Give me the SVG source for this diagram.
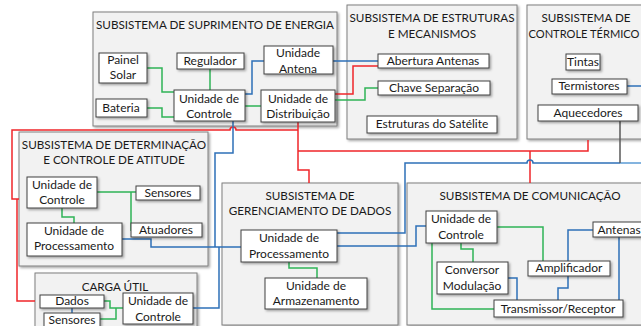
<svg xmlns="http://www.w3.org/2000/svg" width="641" height="326" viewBox="0 0 641 326">
<defs>
<filter id="sh" x="-10%" y="-10%" width="130%" height="140%">
<feDropShadow dx="1.5" dy="1.5" stdDeviation="0.8" flood-color="#000" flood-opacity="0.35"/>
</filter>
</defs>
<style>
.sub{fill:#f2f2f2;stroke:#7f7f7f;stroke-width:1;filter:url(#sh)}
.box{fill:#fff;stroke:#404040;stroke-width:1;filter:url(#sh)}
text{font-family:Lato,"Open Sans","Liberation Sans",sans-serif;fill:#1a1a1a;text-anchor:middle}
.t{font-size:11.7px}
.l{font-size:12px}
.c{fill:none;stroke-width:1.5}
.r{stroke:#f0262a}
.g{stroke:#2fb457}
.b{stroke:#2e70b8}
.lb{stroke:#5b9bd5}
.k{stroke:#595959}
</style>
<rect width="641" height="326" fill="#fff"/>

<g id="supply">
<rect class="sub" x="93" y="12" width="244" height="114"/>
<text class="t" x="215" y="29">SUBSISTEMA DE SUPRIMENTO DE ENERGIA</text>
</g>
<g id="structures">
<rect class="sub" x="347" y="5" width="170" height="134"/>
<text class="t" x="432" y="22">SUBSISTEMA DE ESTRUTURAS</text>
<text class="t" x="432" y="38">E MECANISMOS</text>
</g>
<g id="thermal">
<rect class="sub" x="527" y="5" width="130" height="134"/>
<text class="t" x="586" y="22">SUBSISTEMA DE</text>
<text class="t" x="584" y="38" style="font-size:11.1px">CONTROLE TÉRMICO</text>
</g>
<g id="adcs">
<rect class="sub" x="19" y="132" width="189" height="134"/>
<text class="t" x="114" y="149">SUBSISTEMA DE DETERMINAÇÃO</text>
<text class="t" x="114" y="164">E CONTROLE DE ATITUDE</text>
</g>
<g id="data">
<rect class="sub" x="222" y="183" width="176" height="142"/>
<text class="t" x="310" y="200">SUBSISTEMA DE</text>
<text class="t" x="310" y="215">GERENCIAMENTO DE DADOS</text>
</g>
<g id="payload">
<rect class="sub" x="35" y="273" width="162" height="62"/>
<text class="t" x="115" y="291">CARGA ÚTIL</text>
</g>
<g id="comm">
<rect class="sub" x="407" y="183" width="245" height="142"/>
<text class="t" x="530" y="200">SUBSISTEMA DE COMUNICAÇÃO</text>
</g>

<g id="connectors">
<path class="c r" d="M298,122 V170 H309 V183"/>
<path class="c r" d="M298,130 H236 a3,3 0 0 0 -6,0 H12 V199 H19 M17,199 V301 H35"/>
<path class="c r" d="M298,151 H588 V140 M530,151 V183"/>
<path class="c r" d="M335,94 H353 V66 H378"/>
<path class="c g" d="M147,68 H162 V92 H174 M147,108 H162 V117 H174 M210,69 V90 M245,106 H261"/>
<path class="c g" d="M335,100 H365 V88 H378"/>
<path class="c b" d="M245,94 H252 V61 H264 M333,61 H378"/>
<path class="c b" d="M233,121 V153 H215 V247 H241 M122,239 H151 V247 H215 M193,308 H219 V247"/>
<path class="c b" d="M337,233 H405 V163 H527 a3,3 0 0 1 6,0 H620"/>
<path class="c lb" d="M620,163 H641"/>
<path class="c b" d="M627,86 H641"/>
<path class="c k" d="M620,121 V163"/>
<path class="c b" d="M337,246 H416 V226 H426"/>
<path class="c g" d="M97,192 H136 M131,192 V231 M62,208 V217 H74 V223"/>
<path class="c b" d="M72,308 V313"/>
<path class="c g" d="M104,301 H110 V308 H123 M100,319 H116 V308"/>
<path class="c g" d="M289,262 V268 H317 V278"/>
<path class="c g" d="M497,227 H543 V261 M461,243 V249 H473 V262 M432,243 V309 H494"/>
<path class="c b" d="M508,278 H517 V300 M568,276 V288 H558 V300 M568,261 V230 H593 M619,237 V300"/>
</g>

<g id="painel"><rect class="box" x="99" y="53" width="48" height="30"/><text class="l" x="123" y="64">Painel</text><text class="l" x="123" y="79">Solar</text></g>
<g id="bateria"><rect class="box" x="96" y="99" width="51" height="18"/><text class="l" x="121" y="112">Bateria</text></g>
<g id="regulador"><rect class="box" x="177" y="53" width="67" height="16"/><text class="l" x="210" y="65">Regulador</text></g>
<g id="uc-supply"><rect class="box" x="174" y="90" width="71" height="31"/><text class="l" x="209" y="103">Unidade de</text><text class="l" x="209" y="118">Controle</text></g>
<g id="antena"><rect class="box" x="264" y="46" width="69" height="28"/><text class="l" x="298" y="57">Unidade</text><text class="l" x="298" y="73">Antena</text></g>
<g id="distribuicao"><rect class="box" x="261" y="90" width="74" height="32"/><text class="l" x="298" y="103">Unidade de</text><text class="l" x="298" y="118">Distribuição</text></g>

<g id="abertura"><rect class="box" x="378" y="54" width="111" height="14"/><text class="l" x="433" y="65">Abertura Antenas</text></g>
<g id="chave"><rect class="box" x="378" y="81" width="112" height="14"/><text class="l" x="434" y="92">Chave Separação</text></g>
<g id="estruturas"><rect class="box" x="367" y="116" width="130" height="17"/><text class="l" x="432" y="128">Estruturas do Satélite</text></g>

<g id="tintas"><rect class="box" x="566" y="54" width="34" height="16"/><text class="l" x="583" y="66">Tintas</text></g>
<g id="termistores"><rect class="box" x="552" y="79" width="75" height="15"/><text class="l" x="589" y="90">Termistores</text></g>
<g id="aquecedores"><rect class="box" x="538" y="105" width="100" height="16"/><text class="l" x="588" y="117">Aquecedores</text></g>

<g id="uc-adcs"><rect class="box" x="27" y="177" width="70" height="31"/><text class="l" x="62" y="189">Unidade de</text><text class="l" x="62" y="204">Controle</text></g>
<g id="sensores-adcs"><rect class="box" x="136" y="186" width="64" height="14"/><text class="l" x="168" y="197">Sensores</text></g>
<g id="atuadores"><rect class="box" x="131" y="223" width="71" height="14"/><text class="l" x="166" y="234">Atuadores</text></g>
<g id="up-adcs"><rect class="box" x="27" y="223" width="95" height="33"/><text class="l" x="74" y="235">Unidade de</text><text class="l" x="74" y="250">Processamento</text></g>

<g id="up-data"><rect class="box" x="241" y="230" width="96" height="32"/><text class="l" x="289" y="242">Unidade de</text><text class="l" x="289" y="258">Processamento</text></g>
<g id="armazenamento"><rect class="box" x="265" y="278" width="102" height="31"/><text class="l" x="316" y="290">Unidade de</text><text class="l" x="316" y="305">Armazenamento</text></g>

<g id="dados"><rect class="box" x="40" y="295" width="64" height="13"/><text class="l" x="72" y="305">Dados</text></g>
<g id="sensores-carga"><rect class="box" x="44" y="313" width="56" height="20"/><text class="l" x="72" y="324">Sensores</text></g>
<g id="uc-carga"><rect class="box" x="123" y="293" width="70" height="31"/><text class="l" x="158" y="305">Unidade de</text><text class="l" x="158" y="321">Controle</text></g>

<g id="uc-comm"><rect class="box" x="426" y="211" width="71" height="32"/><text class="l" x="461" y="223">Unidade de</text><text class="l" x="461" y="239">Controle</text></g>
<g id="antenas"><rect class="box" x="593" y="222" width="55" height="15"/><text class="l" x="619" y="234">Antenas</text></g>
<g id="amplificador"><rect class="box" x="528" y="261" width="82" height="15"/><text class="l" x="569" y="272">Amplificador</text></g>
<g id="conversor"><rect class="box" x="437" y="262" width="71" height="32"/><text class="l" x="472" y="274">Conversor</text><text class="l" x="472" y="290">Modulação</text></g>
<g id="transmissor"><rect class="box" x="494" y="300" width="129" height="17"/><text class="l" x="558" y="313">Transmissor/Receptor</text></g>
</svg>
